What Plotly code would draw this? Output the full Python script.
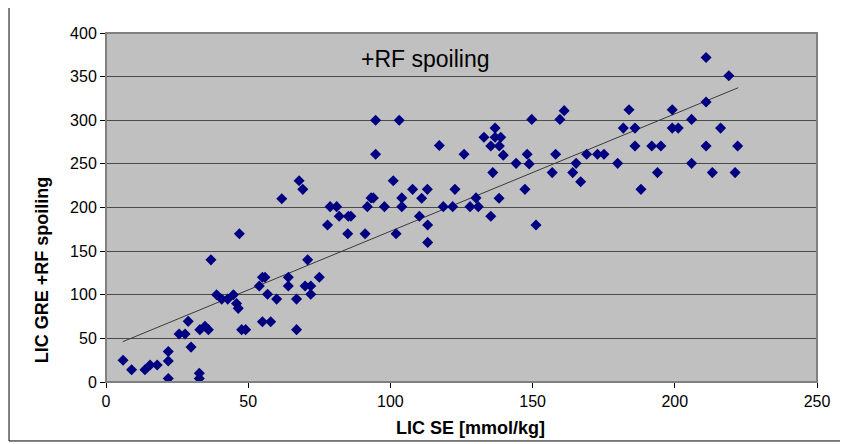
import plotly.graph_objects as go

# LIC SE [mmol/kg] (x) and LIC GRE +RF spoiling (y)
lic_se = [6, 9, 13.7, 15.5, 18, 21.9, 21.9, 21.9, 25.7, 27.8,
          28.9, 29.9, 32.8, 32.8, 33, 34.8, 36, 36.9, 38.9, 40.7,
          42.8, 44.8, 45.9, 46.5, 46.9, 47.7, 49.1, 53.9, 55, 55.9,
          55, 57.9, 56.8, 60, 64.1, 64.1, 61.8, 70, 72, 75,
          67, 72, 67, 94.8, 103.1, 94.8, 117.2, 125.9, 67.9, 69.2,
          101, 107.8, 113, 122.7, 93.2, 94, 104, 111, 78.8, 81.1,
          91.9, 97.9, 104, 118.6, 121.9, 128, 130.9, 82, 85.2, 86.1,
          110.2, 77.9, 113.1, 85, 91.1, 102, 113.1, 70.9, 161.1, 159.6,
          149.7, 183.9, 199.1, 181.9, 186, 136.8, 132.9, 136.8, 138.8, 135.3,
          138.3, 139.7, 144.2, 148.1, 148.8, 136, 130.1, 135.3, 138.2, 147.3,
          151.2, 158.1, 156.9, 165.3, 164.1, 166.9, 169, 172.8, 175.1, 179.9,
          186, 188.1, 191.9, 195.1, 193.9, 211, 219, 211, 205.9, 199.1,
          201.2, 216.1, 211, 222.1, 205.9, 213.2, 221.2]
lic_gre = [25, 14, 14, 19.5, 19.5, 35, 24, 4, 55, 55,
           69.5, 40, 10, 4, 60, 64, 60, 140, 100, 95,
           95, 100, 90, 84.4, 170, 60, 60, 110, 120, 120,
           69, 69, 100.5, 95, 120, 110, 210, 110, 110, 120,
           95, 100.5, 60, 300, 300, 261, 271, 261, 230.7, 220.8,
           230.7, 220.8, 220.8, 220.8, 211, 211, 211, 210.5, 201, 201,
           201, 201, 201, 201, 201, 201, 201, 190, 190, 190,
           190, 180, 180, 170, 170, 170, 160, 140, 311, 301,
           301, 312, 312, 291, 291, 291, 280.5, 280.5, 280.5, 270.5,
           270.5, 260, 250.6, 261, 250, 240, 211, 190, 210.5, 220.8,
           180, 261, 240, 250.6, 240, 229.6, 261, 261, 261, 250.6,
           270.5, 220.8, 270.5, 270.5, 240, 372, 351, 321, 301, 291,
           291, 291, 270.5, 270.5, 250.6, 240, 240]

# linear trend line end points
trend_x = [5.9, 222.3]
trend_y = [46.2, 337.3]

x_ticks = [0, 50, 100, 150, 200, 250]
y_ticks = [0, 50, 100, 150, 200, 250, 300, 350, 400]

title_text = "+RF spoiling"
x_title = "LIC SE [mmol/kg]"
y_title = "LIC GRE +RF spoiling"

fig = go.Figure()
fig.add_trace(go.Scatter(
    x=trend_x, y=trend_y, mode="lines",
    line=dict(color="#3a3a3a", width=1), hoverinfo="skip", showlegend=False))
fig.add_trace(go.Scatter(
    x=lic_se, y=lic_gre, mode="markers",
    marker=dict(symbol="diamond", size=8.5, color="#000080",
                line=dict(width=0)),
    showlegend=False))

font_family = "Liberation Sans, Arial, sans-serif"

fig.update_layout(
    width=848, height=444,
    margin=dict(l=98, r=39, t=25, b=70),
    paper_bgcolor="white",
    plot_bgcolor="#C0C0C0",
    font=dict(family=font_family, color="black", size=16),
    xaxis=dict(
        range=[0, 250], tickvals=x_ticks, ticks="outside", ticklen=5,
        tickcolor="black", showgrid=False, zeroline=False,
        showline=True, linecolor="black", linewidth=1,
        tickfont=dict(size=16), automargin=False,
    ),
    yaxis=dict(
        range=[0, 400], tickvals=y_ticks, ticks="outside", ticklen=5,
        tickcolor="black", showgrid=True, gridcolor="#4a4a4a", gridwidth=1,
        zeroline=False, showline=True, linecolor="black", linewidth=1,
        tickfont=dict(size=16), automargin=False,
    ),
)

fig.add_annotation(
    text=title_text, xref="paper", yref="paper", x=0.4487, y=0.9255,
    xanchor="center", yanchor="middle",
    showarrow=False, font=dict(size=23, family=font_family, color="black"))
fig.add_annotation(
    text="<b>" + x_title + "</b>", xref="paper", yref="paper",
    x=0.512, y=-0.131, xanchor="center", yanchor="middle", showarrow=False,
    font=dict(size=18, family=font_family, color="black"))
fig.add_annotation(
    text="<b>" + y_title + "</b>", xref="paper", yref="paper",
    x=-0.0896, y=0.321, xanchor="center", yanchor="middle",
    showarrow=False, textangle=-90,
    font=dict(size=18, family=font_family, color="black"))

# plot frame (gray)
fig.add_shape(type="rect", xref="paper", yref="paper", x0=0, y0=0, x1=1, y1=1,
              line=dict(color="#808080", width=2), layer="above")
# outer chart border (left, bottom, right)
border = dict(color="black", width=1)
fig.add_shape(type="line", xref="paper", yref="paper",
              x0=-0.1364, y0=-0.169, x1=-0.1364, y1=1.08, line=border)
fig.add_shape(type="line", xref="paper", yref="paper",
              x0=-0.1364, y0=-0.169, x1=1.0366, y1=-0.169, line=border)
fig.add_shape(type="line", xref="paper", yref="paper",
              x0=1.0366, y0=-0.169, x1=1.0366, y1=1.08, line=border)

fig.write_html("out.html")
